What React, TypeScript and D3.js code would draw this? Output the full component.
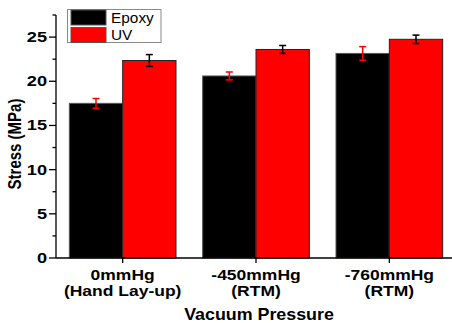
import React from "react";
import * as d3 from "d3";

// Categories (two-line labels) and series
const categories = ["0mmHg", "-450mmHg", "-760mmHg"];
const subLabels = ["(Hand Lay-up)", "(RTM)", "(RTM)"];
const seriesNames = ["Epoxy", "UV"];

// Mean stress (MPa) per category
const epoxyValues = [17.5, 20.6, 23.15];
const uvValues = [22.35, 23.6, 24.75];

// Standard deviations
const epoxyErrors = [0.55, 0.45, 0.77];
const uvErrors = [0.67, 0.45, 0.48];

const yTicks = [0, 5, 10, 15, 20, 25];
const yMinorTicks = [2.5, 7.5, 12.5, 17.5, 22.5, 27.5];

const W = 452;
const H = 323;
const FONT = "'Liberation Sans', Arial, Helvetica, sans-serif";

export default function App() {
  const y = d3.scaleLinear().domain([0, 27.5]).range([258, 15]);
  const x = d3
    .scaleBand<string>()
    .domain(categories)
    .range([56, 456])
    .paddingInner(0.2)
    .paddingOuter(0.1);
  const xs = d3
    .scaleBand<string>()
    .domain(seriesNames)
    .range([0, x.bandwidth()]);

  const fills = ["#000000", "#ff0000"];
  const errColors = ["#ff0000", "#000000"];
  const values = [epoxyValues, uvValues];
  const errors = [epoxyErrors, uvErrors];

  const x0 = 56;
  const yBase = y(0);

  return (
    <svg
      width={W}
      height={H}
      style={{ position: "absolute", left: 0, top: 0, background: "#fff" }}
      fontFamily={FONT}
    >
      <rect x={0} y={0} width={W} height={H} fill="#fff" />

      {/* bars */}
      {categories.map((c, ci) =>
        seriesNames.map((s, si) => {
          const v = values[si][ci];
          const bx = (x(c) ?? 0) + (xs(s) ?? 0);
          return (
            <rect
              key={`${c}-${s}`}
              x={bx}
              y={y(v)}
              width={xs.bandwidth()}
              height={yBase - y(v)}
              fill={fills[si]}
              stroke={si === 0 ? "#555" : "#222"}
              strokeWidth={1}
            />
          );
        })
      )}

      {/* error bars */}
      {categories.map((c, ci) =>
        seriesNames.map((s, si) => {
          const v = values[si][ci];
          const e = errors[si][ci];
          const cx = (x(c) ?? 0) + (xs(s) ?? 0) + xs.bandwidth() / 2;
          const col = errColors[si];
          return (
            <g key={`err-${c}-${s}`} stroke={col} strokeWidth={1.5}>
              <line x1={cx} x2={cx} y1={y(v + e)} y2={y(v - e)} />
              <line x1={cx - 3.5} x2={cx + 3.5} y1={y(v + e)} y2={y(v + e)} />
              <line x1={cx - 3.5} x2={cx + 3.5} y1={y(v - e)} y2={y(v - e)} />
            </g>
          );
        })
      )}

      {/* y axis */}
      <line x1={x0} x2={x0} y1={y(27.5)} y2={yBase} stroke="#000" strokeWidth={1.3} />
      {yTicks.map((t) => (
        <g key={`yt-${t}`}>
          <line x1={x0 - 7} x2={x0} y1={y(t)} y2={y(t)} stroke="#000" strokeWidth={1.3} />
          <text
            transform={`translate(47,${y(t) + 5}) scale(1.3,1)`}
            textAnchor="end"
            fontSize={14}
            fontWeight="bold"
            fill="#000"
          >
            {t}
          </text>
        </g>
      ))}
      {yMinorTicks.map((t) => (
        <line key={`ym-${t}`} x1={x0 - 3.5} x2={x0} y1={y(t)} y2={y(t)} stroke="#000" strokeWidth={1.3} />
      ))}

      {/* x axis */}
      <line x1={x0} x2={W} y1={yBase} y2={yBase} stroke="#000" strokeWidth={1.3} />
      {categories.map((c, ci) => {
        const cx = (x(c) ?? 0) + x.bandwidth() / 2;
        return (
          <g key={`xt-${c}`}>
            <line x1={cx} x2={cx} y1={yBase} y2={yBase + 5} stroke="#000" strokeWidth={1.3} />
            <text
              transform={`translate(${cx},279.5) scale(1.25,1)`}
              textAnchor="middle"
              fontSize={14}
              fontWeight="bold"
              fill="#000"
            >
              {c}
            </text>
            <text
              transform={`translate(${cx},296) scale(1.25,1)`}
              textAnchor="middle"
              fontSize={14}
              fontWeight="bold"
              fill="#000"
            >
              {subLabels[ci]}
            </text>
          </g>
        );
      })}

      {/* axis titles */}
      <text
        transform="translate(259,320) scale(1.05,1)"
        textAnchor="middle"
        fontSize={17}
        fontWeight="bold"
        fill="#000"
      >
        Vacuum Pressure
      </text>
      <text
        transform="translate(21,144) rotate(-90) scale(1,1.25)"
        textAnchor="middle"
        fontSize={15}
        fontWeight="bold"
        fill="#000"
      >
        Stress (MPa)
      </text>

      {/* legend */}
      <rect x={67.5} y={9.5} width={93.5} height={33} fill="#fff" stroke="#888" strokeWidth={1} />
      {seriesNames.map((s, si) => (
        <g key={`lg-${s}`}>
          <rect
            x={71}
            y={10 + si * 17.5}
            width={35}
            height={15}
            fill={fills[si]}
            stroke="#555"
            strokeWidth={1}
          />
          <text
            transform={`translate(111,${22.5 + si * 17}) scale(1.1,1)`}
            fontSize={14}
            fill="#000"
          >
            {s}
          </text>
        </g>
      ))}
    </svg>
  );
}
